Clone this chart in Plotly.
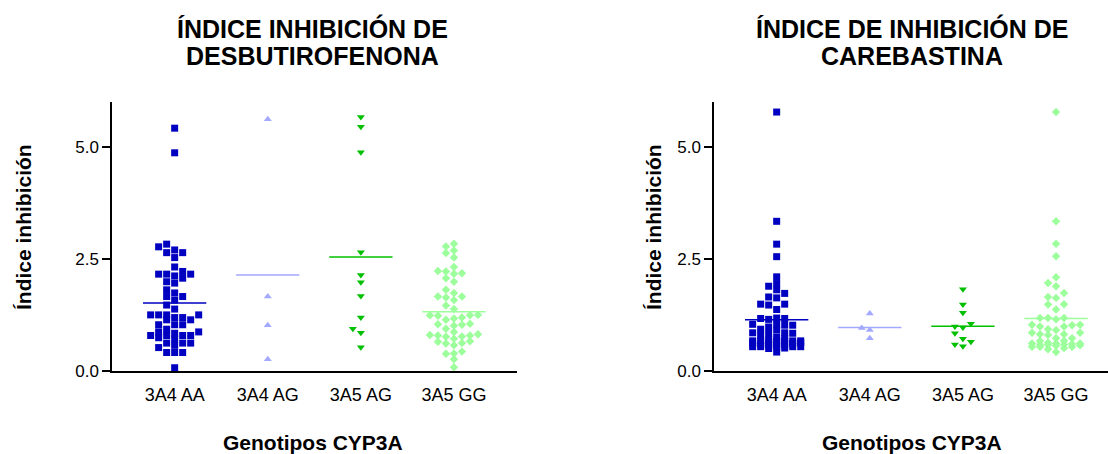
import plotly.graph_objects as go

# ---------------- data ----------------
categories = ["3A4 AA", "3A4 AG", "3A5 AG", "3A5 GG"]
tick_y = [0, 2.5, 5.0]
tick_y_text = ["0.0", "2.5", "5.0"]

title_left = ["ÍNDICE INHIBICIÓN DE", "DESBUTIROFENONA"]
title_right = ["ÍNDICE DE INHIBICIÓN DE", "CAREBASTINA"]
x_title = "Genotipos CYP3A"
y_title = "Índice inhibición"

# Desbutirofenona
desb_3a4_aa = [5.42, 4.87, 2.83, 2.77, 2.70, 2.64, 2.64, 2.53, 2.32, 2.22, 2.16, 2.16, 2.16,
               2.12, 2.07, 1.99, 1.96, 1.81, 1.74, 1.66, 1.66, 1.58, 1.47, 1.38, 1.25, 1.25,
               1.25, 1.25, 1.19, 1.19, 1.14, 1.14, 1.03, 1.03, 1.03, 0.93, 0.87, 0.87, 0.84,
               0.79, 0.79, 0.79, 0.79, 0.74, 0.71, 0.62, 0.62, 0.62, 0.57, 0.52, 0.41, 0.41,
               0.41, 0.07]
desb_3a4_ag = [5.62, 1.66, 1.02, 0.26]
desb_3a5_ag = [5.67, 5.45, 4.88, 2.65, 2.14, 1.98, 1.67, 1.19, 0.94, 0.85, 0.53]
desb_3a5_gg = [2.84, 2.78, 2.69, 2.63, 2.53, 2.32, 2.23, 2.18, 2.22, 2.17, 2.07, 1.99, 1.81,
               1.66, 1.64, 1.66, 1.74, 1.58, 1.46, 1.38, 1.24, 1.23, 1.17, 1.14, 1.19, 1.24,
               1.25, 1.05, 1.04, 0.94, 1.01, 1.03, 0.82, 0.79, 0.76, 0.77, 0.79, 0.80, 0.87,
               0.66, 0.62, 0.57, 0.61, 0.65, 0.72, 0.43, 0.38, 0.39, 0.26, 0.08]

# Carebastina
care_3a4_aa = [5.78, 3.34, 2.83, 2.55, 2.10, 1.95, 1.89, 1.81, 1.73, 1.65, 1.63, 1.49, 1.47,
               1.49, 1.37, 1.17, 1.17, 1.15, 1.18, 0.98, 1.02, 0.91, 1.04, 0.85, 1.02, 0.84,
               1.04, 0.84, 0.85, 0.93, 0.79, 0.67, 0.54, 0.70, 0.54, 0.67, 0.51, 0.63, 0.54,
               0.42, 0.67, 0.50, 0.67, 0.54, 0.67, 0.54, 0.58, 0.60, 0.62, 0.64, 0.72, 0.75,
               0.57, 0.59, 0.61, 0.66]
care_3a4_ag = [1.28, 0.96, 0.91, 0.73]
care_3a5_ag = [1.82, 1.48, 1.30, 1.05, 0.97, 0.99, 0.84, 0.72, 0.65, 0.59, 0.55]
care_3a5_gg = [5.78, 3.34, 2.84, 2.56, 2.09, 1.96, 1.89, 1.74, 1.65, 1.63, 1.49, 1.48, 1.37,
               1.18, 1.15, 1.18, 1.18, 0.99, 0.91, 1.03, 1.02, 0.99, 1.03, 0.93, 0.85, 0.82,
               0.80, 0.82, 0.85, 0.73, 0.73, 0.67, 0.57, 0.59, 0.54, 0.59, 0.51, 0.61, 0.61,
               0.61, 0.54, 0.67, 0.54, 0.42, 0.48, 0.56, 0.60, 0.63, 0.58]

# ---------------- style ----------------
colors = ["#0000C0", "#A3A9FF", "#00C000", "#9CFF9C"]
symbols = ["square", "triangle-up", "triangle-down", "diamond"]
sizes = [7, 7, 7, 6.5]
FONT = "Liberation Sans, Arial, sans-serif"

W, H = 1108, 454
HR = 445.0         # effective rendered height used for placing things
STEP = 0.086       # column spacing in category units (~8 px)
HSEP = 0.13        # vertical separation needed in a column
HALF = 0.34        # half width of mean line


def py(pix):
    """pixel-from-top -> paper fraction"""
    return 1 - pix / HR


def swarm(vals, step=STEP, h=HSEP, maxk=3):
    order = sorted(range(len(vals)), key=lambda i: vals[i])
    cands = [0]
    for j in range(1, maxk + 1):
        cands += [-j, j]
    placed = []
    offs = [0.0] * len(vals)
    for i in order:
        v = vals[i]
        best = None
        for k in cands:
            if all(not (pk == k and abs(pv - v) < h) for pk, pv in placed):
                best = k
                break
        if best is None:
            best = max(cands, key=lambda k: min([abs(pv - v) for pk, pv in placed if pk == k] or [9]))
        placed.append((best, v))
        offs[i] = best * step
    return offs


fig = go.Figure()

panels = [
    ([desb_3a4_aa, desb_3a4_ag, desb_3a5_ag, desb_3a5_gg], "x", "y"),
    ([care_3a4_aa, care_3a4_ag, care_3a5_ag, care_3a5_gg], "x2", "y2"),
]

for groups, xa, ya in panels:
    for gi, vals in enumerate(groups):
        offs = swarm(vals)
        fig.add_trace(go.Scatter(
            x=[gi + o for o in offs], y=vals, mode="markers", xaxis=xa, yaxis=ya,
            marker=dict(symbol=symbols[gi], size=sizes[gi], color=colors[gi], line=dict(width=0)),
            cliponaxis=False, showlegend=False, hoverinfo="y"))
        m = sum(vals) / len(vals)
        fig.add_trace(go.Scatter(
            x=[gi - HALF, gi + HALF], y=[m, m], mode="lines", xaxis=xa, yaxis=ya,
            line=dict(color=colors[gi], width=1.5), showlegend=False, hoverinfo="skip"))

y_bot = py(371.7)
y_top = py(102.7)

common_x = dict(showline=True, linecolor="black", linewidth=1.5, showgrid=False, zeroline=False,
                tickmode="array", tickvals=list(range(len(categories))), ticktext=categories,
                ticks="outside", ticklen=7, tickcolor="rgba(0,0,0,0)",
                tickfont=dict(family=FONT, size=18, color="black"), fixedrange=True)
common_y = dict(showline=True, linecolor="black", linewidth=1.5, showgrid=False, zeroline=False,
                range=[0, 5.994], domain=[y_bot, y_top], tickmode="array", tickvals=tick_y,
                ticktext=tick_y_text, ticks="outside", ticklen=8, tickwidth=1.5, tickcolor="black",
                tickfont=dict(family=FONT, size=17, color="black"), fixedrange=True)

fig.update_layout(
    width=W, height=H, margin=dict(l=0, r=0, t=0, b=0),
    paper_bgcolor="white", plot_bgcolor="white",
    xaxis=dict(common_x, domain=[112 / W, 517 / W], range=[-0.673, 3.677], anchor="y"),
    yaxis=dict(common_y, anchor="x"),
    xaxis2=dict(common_x, domain=[714 / W, 1.0], range=[-0.673, 3.558], anchor="y2"),
    yaxis2=dict(common_y, anchor="x2"),
)

ann = []
for cx, lines in [(312, title_left), (912, title_right)]:
    for yy, txt in zip([28.5, 56.5], lines):
        ann.append(dict(text="<b>%s</b>" % txt, x=cx / W, y=py(yy), xref="paper", yref="paper",
                        xanchor="center", yanchor="middle", showarrow=False,
                        font=dict(family=FONT, size=25, color="black")))
for cx in [313, 912]:
    ann.append(dict(text="<b>%s</b>" % x_title, x=cx / W, y=py(443), xref="paper", yref="paper",
                    xanchor="center", yanchor="middle", showarrow=False,
                    font=dict(family=FONT, size=21, color="black")))
for cx in [24, 654]:
    ann.append(dict(text="<b>%s</b>" % y_title, x=cx / W, y=py(227.5), xref="paper", yref="paper",
                    xanchor="center", yanchor="middle", showarrow=False, textangle=-90,
                    font=dict(family=FONT, size=21, color="black")))
fig.update_layout(annotations=ann)

fig.write_html("out.html", config={"displayModeBar": False})
